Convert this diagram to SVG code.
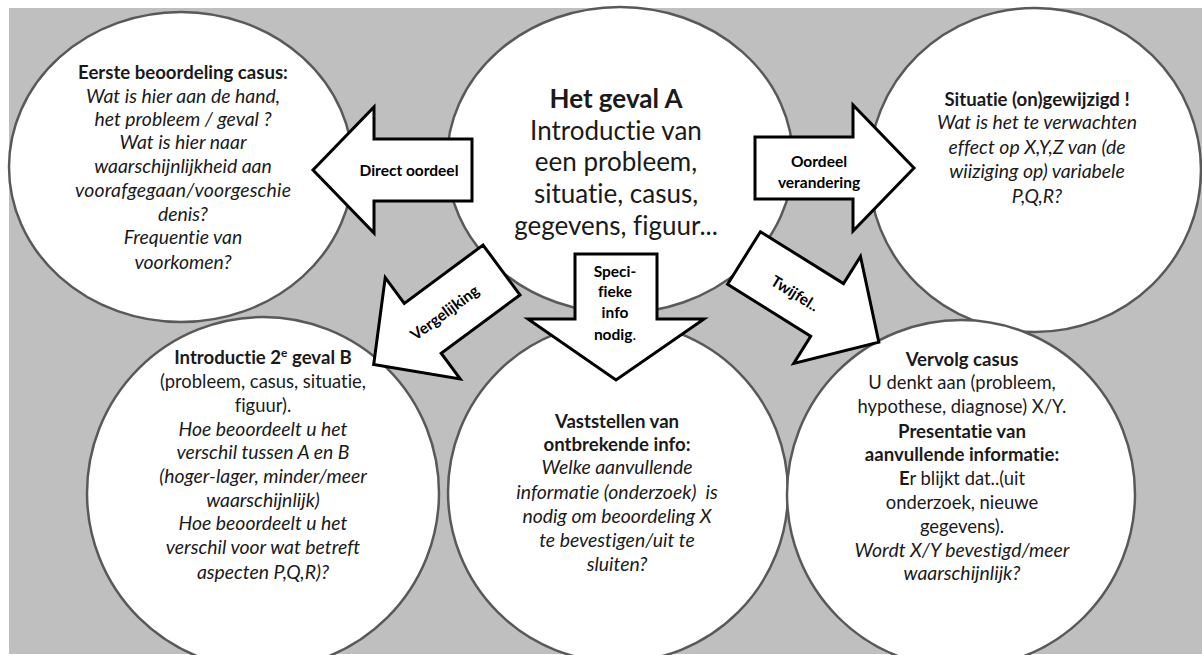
<svg xmlns="http://www.w3.org/2000/svg" width="1202" height="655" viewBox="0 0 1202 655">
<style>
.bg{fill:#bfbfbf}
.circ{fill:#fff;stroke:#595959;stroke-width:2.5}
.arr{fill:#fff;stroke:#000;stroke-width:3;stroke-linejoin:miter}
text{font-family:Lato,"Open Sans","Liberation Sans",sans-serif;fill:#1a1a1a;text-anchor:middle;font-variant-ligatures:none;font-feature-settings:"liga" 0}
.t{font-size:18.4px}
.b{font-weight:bold;font-size:18.6px}
.i{font-style:italic;font-size:19.4px}
.big{font-size:26px}
.lab{font-size:15.5px;font-weight:bold;fill:#000}
</style>
<defs>
<path id="arrow" d="M0,-31 H98 V-63 L159,0 L98,63 V31 H0 Z"/>
</defs>
<rect class="bg" x="9" y="8" width="1193" height="646"/>

<g id="node-eerste">
<ellipse class="circ" cx="181" cy="167" rx="172" ry="155"/>
<text class="t b" x="183" y="79">Eerste beoordeling casus:</text>
<text class="t i" x="183" y="103">Wat is hier aan de hand,</text>
<text class="t i" x="183" y="126">het probleem / geval ?</text>
<text class="t i" x="183" y="149">Wat is hier naar</text>
<text class="t i" x="183" y="173">waarschijnlijkheid aan</text>
<text class="t i" x="183" y="197" textLength="216">voorafgegaan/voorgeschie</text>
<text class="t i" x="183" y="221">denis?</text>
<text class="t i" x="183" y="244">Frequentie van</text>
<text class="t i" x="183" y="269">voorkomen?</text>
</g>

<g id="node-geval-a">
<ellipse class="circ" cx="620" cy="160" rx="173" ry="153"/>
<text class="big b" x="616" y="108" style="font-size:26px">Het geval A</text>
<text class="big" x="616" y="140">Introductie van</text>
<text class="big" x="616" y="171">een probleem,</text>
<text class="big" x="616" y="203">situatie, casus,</text>
<text class="big" x="616" y="235">gegevens, figuur...</text>
</g>

<g id="node-situatie">
<ellipse class="circ" cx="1035" cy="170" rx="166" ry="162"/>
<text class="t b" x="1037" y="106">Situatie (on)gewijzigd !</text>
<text class="t i" x="1037" y="129">Wat is het te verwachten</text>
<text class="t i" x="1037" y="154">effect op X,Y,Z van (de</text>
<text class="t i" x="1037" y="178">wiiziging op) variabele</text>
<text class="t i" x="1037" y="203">P,Q,R?</text>
</g>

<g id="node-geval-b">
<ellipse class="circ" cx="263" cy="493" rx="176" ry="176"/>
<text class="t b" x="263" y="364">Introductie 2<tspan font-size="12" dy="-7">e</tspan><tspan dy="7"> geval B</tspan></text>
<text class="t" x="263" y="388">(probleem, casus, situatie,</text>
<text class="t" x="263" y="412">figuur).</text>
<text class="t i" x="263" y="436">Hoe beoordeelt u het</text>
<text class="t i" x="263" y="459">verschil tussen A en B</text>
<text class="t i" x="263" y="483">(hoger-lager, minder/meer</text>
<text class="t i" x="263" y="507">waarschijnlijk)</text>
<text class="t i" x="263" y="530">Hoe beoordeelt u het</text>
<text class="t i" x="263" y="554">verschil voor wat betreft</text>
<text class="t i" x="263" y="579">aspecten P,Q,R)?</text>
</g>

<g id="node-vaststellen">
<ellipse class="circ" cx="618" cy="492" rx="170" ry="170"/>
<text class="t b" x="617" y="428">Vaststellen van</text>
<text class="t b" x="617" y="451">ontbrekende info:</text>
<text class="t i" x="617" y="474">Welke aanvullende</text>
<text class="t i" x="617" y="499" xml:space="preserve">informatie (onderzoek)  is</text>
<text class="t i" x="617" y="523">nodig om beoordeling X</text>
<text class="t i" x="617" y="547">te bevestigen/uit te</text>
<text class="t i" x="617" y="571">sluiten?</text>
</g>

<g id="node-vervolg">
<ellipse class="circ" cx="961" cy="494" rx="174" ry="174"/>
<text class="t b" x="962" y="366">Vervolg casus</text>
<text class="t" x="962" y="389">U denkt aan (probleem,</text>
<text class="t" x="962" y="413">hypothese, diagnose) X/Y.</text>
<text class="t b" x="962" y="438">Presentatie van</text>
<text class="t b" x="962" y="461">aanvullende informatie:</text>
<text class="t" x="962" y="485"><tspan font-weight="bold">E</tspan>r blijkt dat..(uit</text>
<text class="t" x="962" y="509">onderzoek, nieuwe</text>
<text class="t" x="962" y="533">gegevens).</text>
<text class="t i" x="962" y="557">Wordt X/Y bevestigd/meer</text>
<text class="t i" x="962" y="580">waarschijnlijk?</text>
</g>

<g id="connectors">
<g id="arrow-direct">
<use href="#arrow" class="arr" transform="translate(472,170) rotate(180)"/>
<text class="lab" x="409" y="176">Direct oordeel</text>
</g>
<g id="arrow-oordeel">
<use href="#arrow" class="arr" transform="translate(755,168)"/>
<text class="lab" x="819" y="167">Oordeel</text>
<text class="lab" x="819" y="188">verandering</text>
</g>
<g id="arrow-vergelijking">
<use href="#arrow" class="arr" transform="translate(501.5,270) rotate(143.5)"/>
<text class="lab" transform="translate(448,317) rotate(-36.5)">Vergelijking</text>
</g>
<g id="arrow-specifieke">
<path class="arr" d="M575,254 H657 V319 H704 L616,380 L528,319 H575 Z"/>
<text class="lab" x="615" y="277">Speci-</text>
<text class="lab" x="615" y="297">fieke</text>
<text class="lab" x="615" y="318">info</text>
<text class="lab" x="615" y="340">nodig<tspan font-weight="normal">.</tspan></text>
</g>
<g id="arrow-twijfel">
<use href="#arrow" class="arr" transform="translate(744,258) rotate(32)"/>
<text class="lab" transform="translate(792,298) rotate(32)">Twijfel..</text>
</g>
</g>
</svg>
